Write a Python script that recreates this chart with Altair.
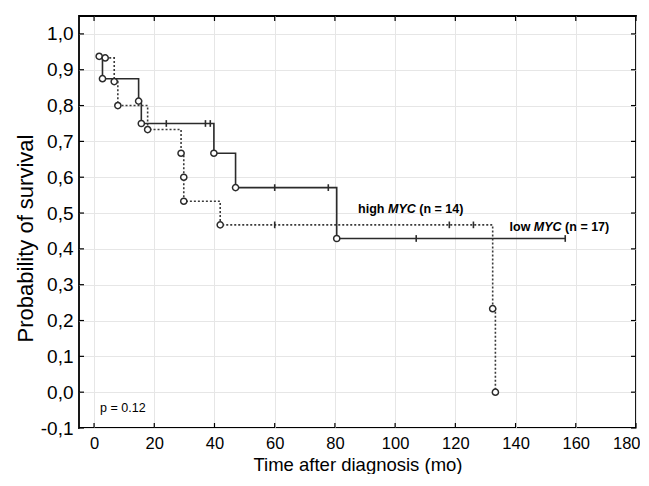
import altair as alt
import pandas as pd

# ---- data ----
solid_time = [1.7, 2.8, 14.8, 15.7, 39.8, 47.0, 80.6, 156.5]
solid_surv = [0.9375, 0.875, 0.8125, 0.75, 0.667, 0.571, 0.429, 0.429]
solid_event_time = [1.7, 2.8, 14.8, 15.7, 39.8, 47.0, 80.6]
solid_event_surv = [0.9375, 0.875, 0.8125, 0.75, 0.667, 0.571, 0.429]
solid_cens_time = [24.0, 37.0, 38.6, 60.0, 77.8, 107.0, 156.5]
solid_cens_surv = [0.75, 0.75, 0.75, 0.571, 0.571, 0.429, 0.429]

dotted_time = [3.7, 6.7, 7.9, 17.8, 28.9, 29.8, 29.8, 41.9, 132.4, 133.3]
dotted_surv = [0.933, 0.867, 0.8, 0.733, 0.667, 0.6, 0.533, 0.467, 0.233, 0.0]
dotted_cens_time = [60.0, 118.0, 126.0]
dotted_cens_surv = [0.467, 0.467, 0.467]

x_ticks = [0, 20, 40, 60, 80, 100, 120, 140, 160, 180]
y_ticks = [-0.1, 0.0, 0.1, 0.2, 0.3, 0.4, 0.5, 0.6, 0.7, 0.8, 0.9, 1.0]

x_title = "Time after diagnosis (mo)"
y_title = "Probability of survival"
p_text = "p = 0.12"
label_high = ["high", "MYC", "(n = 14)"]
label_low = ["low", "MYC", "(n = 17)"]
label_high_pos = (87.7, 0.512)
label_low_pos = (138.0, 0.462)
p_pos = (2.0, -0.045)

# ---- layout ----
W, H = 557, 412
FONT = "Liberation Sans"
LINE = "#2b2b2b"
LBL = 12.5

xs = alt.Scale(domain=[-5, 180], nice=False, zero=False)
ys = alt.Scale(domain=[-0.1, 1.05], nice=False, zero=False)

xaxis = alt.Axis(values=x_ticks, title=x_title, grid=True, ticks=False, domain=False,
                 labelFontSize=16.5, labelPadding=7, titleFontSize=18.5,
                 titleBaseline="alphabetic", titleY=42,
                 labelFlush=True, labelFlushOffset=4)
yaxis = alt.Axis(values=y_ticks, title=y_title, grid=True, ticks=False, domain=False,
                 labelFontSize=19, labelPadding=6, titleFontSize=22, titlePadding=3,
                 labelFlush=False,
                 labelExpr="replace(replace(format(datum.value, '.1f'), '.', ','), '\u2212', '-')",
                 titleY=222)

def X(f):
    return alt.X(f, type="quantitative", scale=xs, axis=xaxis)

def Y(f):
    return alt.Y(f, type="quantitative", scale=ys, axis=yaxis)

solid_df = pd.DataFrame({"t": solid_time, "s": solid_surv, "i": range(len(solid_time))})
dotted_df = pd.DataFrame({"t": dotted_time, "s": dotted_surv, "i": range(len(dotted_time))})
events_df = pd.DataFrame({"t": solid_event_time + dotted_time,
                          "s": solid_event_surv + dotted_surv})
cens_df = pd.DataFrame({"t": solid_cens_time + dotted_cens_time,
                        "s": solid_cens_surv + dotted_cens_surv})

solid_line = alt.Chart(solid_df).mark_line(
    interpolate="step-after", color=LINE, strokeWidth=1.6
).encode(x=X("t"), y=Y("s"), order="i:Q")

dotted_line = alt.Chart(dotted_df).mark_line(
    interpolate="step-after", color="#3a3a3a", strokeWidth=1.6, strokeDash=[2, 2]
).encode(x=X("t"), y=Y("s"), order="i:Q")

censors = alt.Chart(cens_df).mark_point(
    shape="M0,-1L0,1", size=45, stroke=LINE, strokeWidth=1.6, opacity=1
).encode(x=X("t"), y=Y("s"))

events = alt.Chart(events_df).mark_point(
    shape="circle", filled=True, fill="white", stroke=LINE, strokeWidth=1.5,
    size=38, opacity=1, fillOpacity=1
).encode(x=X("t"), y=Y("s"))

xt_df = pd.DataFrame({"t": x_ticks})
yt_df = pd.DataFrame({"s": y_ticks})
tick_bottom = alt.Chart(xt_df).mark_rule(color="black", strokeWidth=1.2).encode(
    x=X("t"), y=alt.value(H), y2=alt.value(H - 5))
tick_top = alt.Chart(xt_df).mark_rule(color="black", strokeWidth=1.2).encode(
    x=X("t"), y=alt.value(0), y2=alt.value(5))
tick_left = alt.Chart(yt_df).mark_rule(color="black", strokeWidth=1.2).encode(
    y=Y("s"), x=alt.value(0), x2=alt.value(5))
tick_right = alt.Chart(yt_df).mark_rule(color="black", strokeWidth=1.2).encode(
    y=Y("s"), x=alt.value(W), x2=alt.value(W - 5))

# advance widths (em) of bold Liberation Sans pieces plus a following space
EM = {"high": 2.111, "low": 1.667, "MYC": 2.222}
SPACE = 0.278

def label_layers(parts, pos, size=LBL):
    layers = []
    dx = 0.0
    for part in parts:
        df = pd.DataFrame({"t": [pos[0]], "s": [pos[1]], "txt": [part]})
        layers.append(alt.Chart(df).mark_text(
            align="left", baseline="middle", font=FONT, fontSize=size,
            fontWeight="bold", fontStyle="italic" if part == "MYC" else "normal",
            dx=dx, color="black"
        ).encode(x=X("t"), y=Y("s"), text="txt:N"))
        dx += (EM.get(part, 0) + SPACE) * size
    return layers

p_df = pd.DataFrame({"t": [p_pos[0]], "s": [p_pos[1]], "txt": [p_text]})
p_layer = alt.Chart(p_df).mark_text(
    align="left", baseline="middle", font=FONT, fontSize=12.5, color="black"
).encode(x=X("t"), y=Y("s"), text="txt:N")

chart = alt.layer(
    solid_line, dotted_line, censors, events,
    tick_bottom, tick_top, tick_left, tick_right,
    *label_layers(label_high, label_high_pos),
    *label_layers(label_low, label_low_pos),
    p_layer,
).properties(
    width=W, height=H,
    padding={"left": 71, "top": 8, "right": 4, "bottom": 46},
    autosize=alt.AutoSizeParams(type="none"),
).configure_view(
    stroke="black", strokeWidth=1.8
).configure_axis(
    labelFont=FONT, titleFont=FONT, labelColor="black", titleColor="black",
    titleFontWeight="normal", gridColor="#e6e6e6", gridWidth=1
)

chart.save("out.html", embed_options={"renderer": "svg", "actions": False})
